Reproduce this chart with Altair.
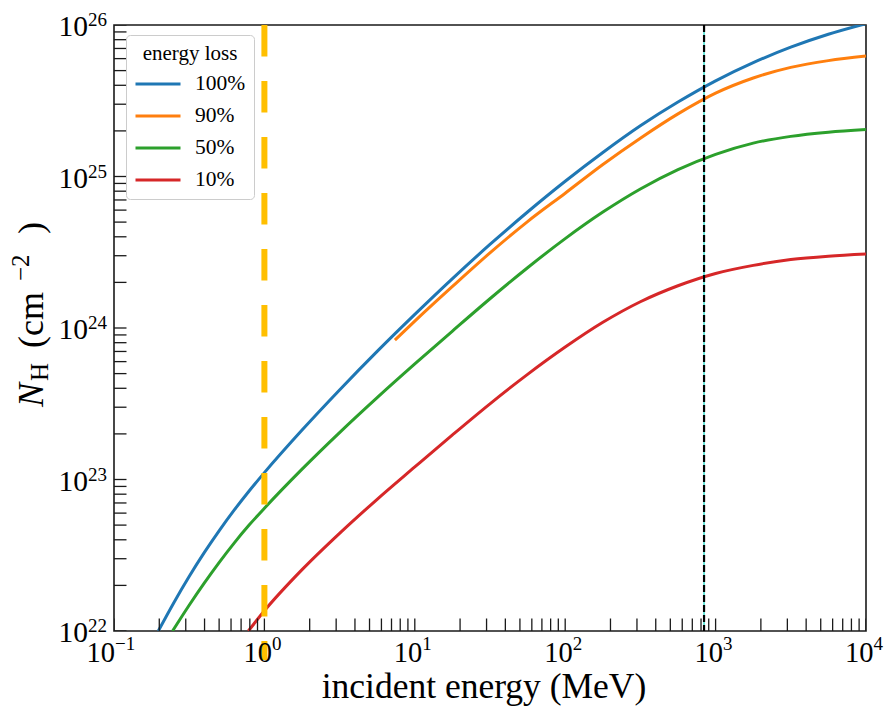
import altair as alt
import pandas as pd

# ---------------- data ----------------
series_names = ["100%", "90%", "50%", "10%"]
series_colors = ["#1f77b4", "#ff7f0e", "#2ca02c", "#d62728"]

e_100 = [0.197, 0.251, 0.316, 0.398, 0.501, 0.631, 0.794, 1.0, 1.78, 3.16, 5.62, 10,
         17.8, 31.6, 56.2, 100, 178, 316, 562, 1000, 1780, 3160, 5620, 10000]
nh_100 = [1.00e22, 1.55e22, 2.29e22, 3.29e22, 4.60e22, 6.30e22, 8.43e22, 1.11e23,
          2.12e23, 3.90e23, 7.01e23, 1.23e24, 2.12e24, 3.56e24, 5.83e24, 9.30e24,
          1.44e25, 2.16e25, 3.10e25, 4.28e25, 5.64e25, 7.14e25, 8.69e25, 1.02e26]

e_90 = [7.38, 10, 17.8, 31.6, 56.2, 100, 178, 316, 562, 1000, 1780, 3160, 5620, 10000]
nh_90 = [8.32e23, 1.11e24, 1.88e24, 3.13e24, 5.04e24, 7.76e24, 1.20e25, 1.79e25,
         2.59e25, 3.55e25, 4.47e25, 5.25e25, 5.82e25, 6.24e25]

e_50 = [0.245, 0.316, 0.398, 0.501, 0.631, 0.794, 1.0, 1.78, 3.16, 5.62, 10, 17.8,
        31.6, 56.2, 100, 178, 316, 562, 1000, 1780, 3160, 5620, 10000]
nh_50 = [1.00e22, 1.48e22, 2.07e22, 2.84e22, 3.82e22, 5.02e22, 6.46e22, 1.17e23,
         2.04e23, 3.47e23, 5.79e23, 9.55e23, 1.56e24, 2.50e24, 3.89e24, 5.82e24,
         8.27e24, 1.11e25, 1.40e25, 1.66e25, 1.84e25, 1.96e25, 2.04e25]

e_10 = [0.782, 1.0, 1.78, 3.16, 5.62, 10, 17.8, 31.6, 56.2, 100, 178, 316, 562,
        1000, 1780, 3160, 5620, 10000]
nh_10 = [1.00e22, 1.36e22, 2.54e22, 4.41e22, 7.40e22, 1.21e23, 1.97e23, 3.16e23,
         4.94e23, 7.48e23, 1.09e24, 1.49e24, 1.90e24, 2.29e24, 2.59e24, 2.83e24,
         2.98e24, 3.08e24]

threshold_e = [1.0]          # thick dashed marker
threshold_top = [1e26]
threshold_bottom = [6.44e21]
cut_e = [838.0]              # thin dashed marker

x_major = [0.1, 1, 10, 100, 1000, 10000]
x_exps = ["\u22121", "0", "1", "2", "3", "4"]
y_major = [1e22, 1e23, 1e24, 1e25, 1e26]
y_exps = ["22", "23", "24", "25", "26"]

x_title = "incident energy (MeV)"

# ---------------- tables ----------------
rows = []
for name, xs, ys in [("100%", e_100, nh_100), ("90%", e_90, nh_90),
                     ("50%", e_50, nh_50), ("10%", e_10, nh_10)]:
    for i, (a, b) in enumerate(zip(xs, ys)):
        rows.append({"series": name, "E": a, "NH": b, "i": i})
df = pd.DataFrame(rows)

thr_df = pd.DataFrame({"E": threshold_e, "top": threshold_top, "bot": threshold_bottom})
cut_df = pd.DataFrame({"E": cut_e, "top": [y_major[-1]], "bot": [y_major[0]]})
xlab_df = pd.DataFrame({"E": x_major, "exp": x_exps, "NH": [y_major[0]] * len(x_major)})
ylab_df = pd.DataFrame({"NH": y_major, "exp": y_exps, "E": [x_major[0]] * len(y_major)})

x_ticks = [m * 10.0 ** d for d in range(-1, 4) for m in range(1, 10)] + [1e4]
y_ticks = [m * 10.0 ** d for d in range(22, 26) for m in range(1, 10)] + [1e26]
xtick_df = pd.DataFrame({"E": x_ticks, "NH": [y_major[0]] * len(x_ticks)})
ytick_df = pd.DataFrame({"NH": y_ticks, "E": [x_major[0]] * len(y_ticks)})

W, H = 752, 606
FONT = "Liberation Serif"
INK = "#1a1a1a"

xscale = alt.Scale(type="log", domain=[0.1, 1e4], nice=False)
yscale = alt.Scale(type="log", domain=[1e22, 1e26], nice=False)

def xy(xf="E:Q", yf="NH:Q"):
    return dict(x=alt.X(xf, scale=xscale, axis=None), y=alt.Y(yf, scale=yscale, axis=None))

# ---------------- layers ----------------
lines = alt.Chart(df).mark_line(strokeWidth=3, clip=True, interpolate="monotone").encode(
    x=alt.X("E:Q", scale=xscale, axis=None),
    y=alt.Y("NH:Q", scale=yscale, axis=None),
    color=alt.Color("series:N", scale=alt.Scale(domain=series_names, range=series_colors),
                    legend=alt.Legend(title="energy loss", orient="none", legendX=12, legendY=10,
                                      symbolType="stroke", symbolSize=2025, symbolStrokeWidth=3,
                                      clipHeight=22, rowPadding=10, labelFont=FONT,
                                      labelFontSize=21.5, labelColor="black", titleFont=FONT,
                                      titleFontSize=21, titleFontWeight="normal",
                                      titleColor="black", titleAnchor="middle", titlePadding=9,
                                      padding=8, fillColor="rgba(255,255,255,0.85)",
                                      strokeColor="#cccccc", cornerRadius=4, labelOffset=13,
                                      symbolOffset=0)),
    order="i:Q",
)

# inward ticks (half of each tick is clipped away by the plot frame)
xticks = alt.Chart(xtick_df).mark_tick(orient="vertical", size=25, thickness=1.3,
                                       color=INK, clip=True, opacity=1).encode(**xy())
yticks = alt.Chart(ytick_df).mark_tick(orient="horizontal", size=25, thickness=1.3,
                                       color=INK, clip=True, opacity=1).encode(**xy())

cyan = alt.Chart(cut_df).mark_rule(color="#40e0d0", strokeWidth=1.5).encode(
    y2="bot:Q", **xy("E:Q", "top:Q"))
black = alt.Chart(cut_df).mark_rule(color="black", strokeWidth=2.2, strokeDash=[7, 3]).encode(
    y2="bot:Q", **xy("E:Q", "top:Q"))
yellow = alt.Chart(thr_df).mark_rule(color="#ffbf00", strokeWidth=6, strokeDash=[31.5, 24.5],
                                     clip=False).encode(y2="bot:Q", **xy("E:Q", "top:Q"))

# x tick labels: "10" + superscript exponent
xl = alt.Chart(xlab_df)
xl_neg = xl.transform_filter("datum.E < 1")
xl_pos = xl.transform_filter("datum.E >= 1")
xbase_neg = xl_neg.mark_text(text="10", font=FONT, fontSize=28.5, align="right",
                             baseline="alphabetic", dx=1, dy=31, color="black").encode(**xy())
xexp_neg = xl_neg.mark_text(font=FONT, fontSize=19, align="left", baseline="alphabetic",
                            dx=1, dy=19, color="black").encode(text="exp:N", **xy())
xbase_pos = xl_pos.mark_text(text="10", font=FONT, fontSize=28.5, align="right",
                             baseline="alphabetic", dx=7.5, dy=31, color="black").encode(**xy())
xexp_pos = xl_pos.mark_text(font=FONT, fontSize=19, align="left", baseline="alphabetic",
                            dx=7.5, dy=19, color="black").encode(text="exp:N", **xy())

# y tick labels
yl = alt.Chart(ylab_df)
ybase = yl.mark_text(text="10", font=FONT, fontSize=29.5, align="right", baseline="alphabetic",
                     dx=-26, dy=11, color="black").encode(**xy())
yexp = yl.mark_text(font=FONT, fontSize=19, align="left", baseline="alphabetic",
                    dx=-26, dy=1, color="black").encode(text="exp:N", **xy())

one = pd.DataFrame({"k": [0]})

# x axis title
xtitle = alt.Chart(one).mark_text(text=x_title, font=FONT, fontSize=35.5, align="center",
                                  baseline="alphabetic", color="black").encode(
    x=alt.value(370), y=alt.value(H + 67))

# y axis title  N_H (cm^-2), drawn rotated in pieces
def piece(txt, xv, yv, size, italic=False):
    return alt.Chart(one).mark_text(text=txt, font=FONT, fontSize=size, angle=270,
                                    align="left", baseline="alphabetic", color="black",
                                    fontStyle="italic" if italic else "normal").encode(
        x=alt.value(xv), y=alt.value(yv))

ytitle = [
    piece("N", -71, 382, 36, italic=True),
    piece("H", -66, 356, 25),
    piece("(cm", -71, 323, 36),
    piece("\u22122", -85, 256, 25),
    piece(")", -71, 209, 36),
]

chart = alt.layer(lines, cyan, black, yellow, xticks, yticks, xbase_neg, xexp_neg,
                  xbase_pos, xexp_pos, ybase, yexp, xtitle, *ytitle).properties(
    width=W, height=H,
    autosize=alt.AutoSizeParams(type="none"),
    padding={"left": 114, "top": 25, "right": 22, "bottom": 82},
    background="white",
).configure_view(stroke=INK, strokeWidth=1.6)

chart.save("out.html", embed_options={"renderer": "svg", "actions": False})
